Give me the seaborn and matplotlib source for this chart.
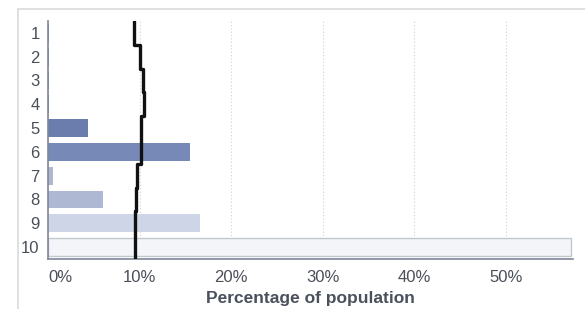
import numpy as np
import pandas as pd
import matplotlib.pyplot as plt
import seaborn as sns
from matplotlib.patches import Rectangle

# deciles and values
deciles = ['1', '2', '3', '4', '5', '6', '7', '8', '9', '10']
pop_share = [0.15, 0.15, 0.15, 0.15, 4.4, 15.5, 0.6, 6.0, 16.6, 57.1]
reference_line = [9.4, 10.0, 10.4, 10.5, 10.2, 10.2, 9.7, 9.6, 9.5, 9.5]
bar_colors = ['#8a9bc8', '#8a9bc8', '#8a9bc8', '#8a9bc8', '#5f78b8',
              '#6b84c2', '#a9b5d9', '#a9b5d8', '#c9d3ea', '#f3f5fa']
x_ticks = [0, 10, 20, 30, 40, 50]

df = pd.DataFrame({'decile': deciles, 'share': pop_share})

sns.set_style('white')
plt.rcParams['font.family'] = ['Liberation Sans', 'DejaVu Sans']

fig = plt.figure(figsize=(5.85, 3.09), dpi=100)
ax = fig.add_axes([48 / 585, 1 - 259 / 309, (573 - 48) / 585, (259 - 21) / 309])

# light outer frame of the panel
fig.patches.append(Rectangle((18 / 585, -0.1), 1.0, 1 - 9 / 309 + 0.1,
                             transform=fig.transFigure, fill=False,
                             edgecolor='#d9dadd', linewidth=1.2))

sns.barplot(data=df, y='decile', x='share', hue='decile', palette=bar_colors,
            order=deciles, orient='h', width=0.75, legend=False, ax=ax,
            edgecolor='none', zorder=2)
# faint edge on the last bar
ax.patches[-1].set_edgecolor('#c3c7ce')
ax.patches[-1].set_linewidth(1)

# black step line
ys = np.arange(len(deciles))
line_y = np.column_stack([ys - 0.5, ys + 0.5]).ravel()
line_x = np.repeat(reference_line, 2)
ax.plot(line_x, line_y, color='#111111', linewidth=2.4, zorder=4)

ax.set_xlim(0, 57.3)
ax.set_ylim(9.5, -0.5)
ax.set_xticks(x_ticks)
ax.set_xticklabels([f'{t}%' for t in x_ticks])
ax.get_xticklabels()[0].set_ha('left')
ax.xaxis.grid(True, linestyle=(0, (1, 2)), color='#d6cdd8', linewidth=0.8, zorder=0)
ax.set_axisbelow(True)

for s in ['top', 'right']:
    ax.spines[s].set_visible(False)
for s in ['left', 'bottom']:
    ax.spines[s].set_color('#7d8796')
    ax.spines[s].set_linewidth(1.2)

ax.tick_params(axis='both', length=0, labelsize=12, labelcolor='#4a4f58')
ax.tick_params(axis='y', pad=6)
ax.tick_params(axis='x', pad=8)
ax.set_ylabel('')
ax.set_xlabel('Percentage of population', fontsize=12.5, fontweight='bold',
              color='#4a515c', labelpad=4)

fig.savefig('out.png', dpi=100)
